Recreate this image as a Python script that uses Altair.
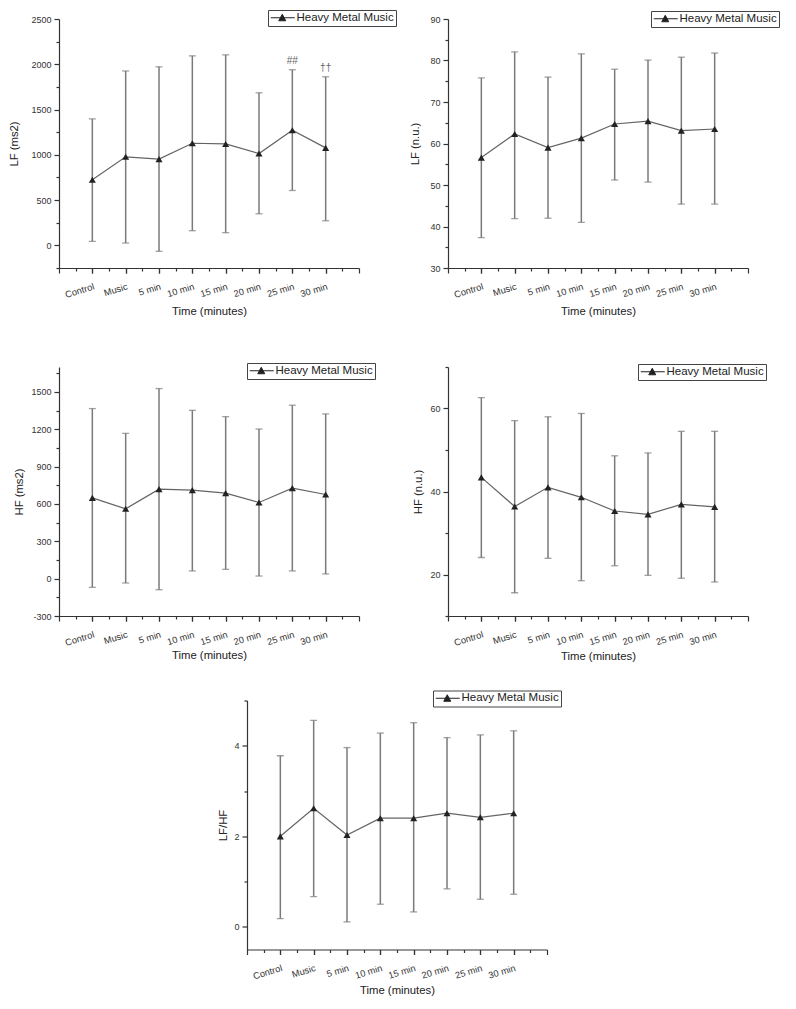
import altair as alt
import pandas as pd

# ---------------- data ----------------
categories = ["Control", "Music", "5 min", "10 min", "15 min", "20 min", "25 min", "30 min"]
series_name = "Heavy Metal Music"

lf_ms2_mean = [725, 978, 952, 1128, 1120, 1014, 1272, 1077]
lf_ms2_hi = [1397, 1926, 1972, 2093, 2104, 1685, 1940, 1862]
lf_ms2_lo = [44, 26, -66, 162, 140, 349, 606, 272]

lf_nu_mean = [56.6, 62.3, 59.0, 61.3, 64.7, 65.4, 63.1, 63.5]
lf_nu_hi = [75.8, 82.1, 76.0, 81.6, 77.9, 80.1, 80.8, 81.8]
lf_nu_lo = [37.3, 41.9, 42.0, 41.0, 51.2, 50.7, 45.4, 45.4]

hf_ms2_mean = [649, 561, 719, 711, 687, 612, 727, 676]
hf_ms2_hi = [1366, 1167, 1527, 1352, 1301, 1202, 1393, 1323]
hf_ms2_lo = [-70, -35, -89, 62, 75, 21, 62, 38]

hf_nu_mean = [43.4, 36.4, 41.0, 38.6, 35.3, 34.5, 36.9, 36.3]
hf_nu_hi = [62.6, 57.1, 58.0, 58.8, 48.6, 49.3, 54.5, 54.5]
hf_nu_lo = [24.1, 15.6, 23.9, 18.5, 22.1, 19.8, 19.1, 18.2]

lfhf_mean = [2.00, 2.62, 2.03, 2.40, 2.40, 2.51, 2.42, 2.51]
lfhf_hi = [3.78, 4.56, 3.96, 4.28, 4.51, 4.18, 4.24, 4.33]
lfhf_lo = [0.18, 0.67, 0.11, 0.50, 0.33, 0.84, 0.61, 0.72]

annot_categories = ["25 min", "30 min"]
annot_text = ["##", "\u2020\u2020"]

# axis tick values (major = labelled, minor = unlabelled)
lf_ms2_major = [0, 500, 1000, 1500, 2000, 2500]
lf_ms2_minor = [-250, 250, 750, 1250, 1750, 2250]
lf_nu_major = [30, 40, 50, 60, 70, 80, 90]
lf_nu_minor = [35, 45, 55, 65, 75, 85]
hf_ms2_major = [-300, 0, 300, 600, 900, 1200, 1500]
hf_ms2_minor = [-150, 150, 450, 750, 1050, 1350, 1650]
hf_nu_major = [20, 40, 60]
hf_nu_minor = [10, 30, 50, 70]
lfhf_major = [0, 2, 4]
lfhf_minor = [1, 3, 5]

# ---------------- styling ----------------
FONT = "Liberation Sans"
INK = "#222222"
BAR = "#7a7a7a"
SYM = "M-1,0L3.8,0M0.6,0.6L1.3,-0.7L2,0.6Z"

n_cat = len(categories)
positions = list(range(1, n_cat + 1))
x_minor_ticks = [i / 2 for i in range(0, 2 * (n_cat + 1) + 1)]


def make_panel(mean, lo, hi, ytitle, ydomain, ymajor, yminor, ytitle_pad,
               xtitle_pad, legend_xy, height, annots=None):
    df = pd.DataFrame({
        "pos": positions, "cat": categories, "mean": mean, "lo": lo, "hi": hi,
        "series": [series_name] * n_cat,
    })

    def xs():
        return alt.Scale(type="point", domain=categories, padding=1)

    def ys():
        return alt.Scale(domain=ydomain, nice=False, zero=False)

    x_main = alt.X(
        "cat:N", scale=xs(), title="Time (minutes)",
        axis=alt.Axis(labelAngle=343, labelAlign="right", labelBaseline="top",
                      labelPadding=9, labelOverlap=False, tickSize=5, labelFontSize=9.3,
                      titlePadding=xtitle_pad, minExtent=31, maxExtent=31),
    )
    y_main = alt.Y(
        "lo:Q", scale=ys(), title=ytitle,
        axis=alt.Axis(values=ymajor, labelExpr="datum.value + ''", labelOverlap=False,
                      labelPadding=3, tickSize=5, titlePadding=ytitle_pad),
    )
    color = alt.Color(
        "series:N",
        scale=alt.Scale(domain=[series_name], range=[INK]),
        legend=alt.Legend(
            title=None, orient="none", legendX=legend_xy[0], legendY=legend_xy[1],
            symbolType=SYM, symbolSize=100, symbolStrokeWidth=1,
            symbolStrokeColor="#555555", symbolFillColor=INK,
            labelFont=FONT, labelFontSize=11.5, labelColor=INK, labelOffset=15,
            padding=2, strokeColor="#444444", fillColor="white",
        ),
    )
    base = alt.Chart(df)
    rule = base.mark_rule(color=BAR, strokeWidth=1.5).encode(x=x_main, y=y_main, y2="hi:Q")
    cap_lo = base.mark_tick(orient="horizontal", size=7, thickness=1.3, color=BAR).encode(
        x=alt.X("cat:N", scale=xs(), axis=None), y=alt.Y("lo:Q", scale=ys(), axis=None))
    cap_hi = base.mark_tick(orient="horizontal", size=7, thickness=1.3, color=BAR).encode(
        x=alt.X("cat:N", scale=xs(), axis=None), y=alt.Y("hi:Q", scale=ys(), axis=None))
    line = base.mark_line(strokeWidth=1.2, strokeOpacity=0.7).encode(
        x=alt.X("cat:N", scale=xs(), axis=None), y=alt.Y("mean:Q", scale=ys(), axis=None),
        color=color)
    pts = base.mark_point(shape="triangle-up", filled=True, size=50, opacity=1).encode(
        x=alt.X("cat:N", scale=xs(), axis=None), y=alt.Y("mean:Q", scale=ys(), axis=None),
        color=color)
    minor = base.mark_point(opacity=0).encode(
        x=alt.X("pos:Q", scale=alt.Scale(domain=[0, n_cat + 1], nice=False, zero=False),
                title=None,
                axis=alt.Axis(values=x_minor_ticks, labels=False, domain=False, orient="bottom",
                              tickSize={"condition": {"test": "datum.value % 1 === 0", "value": 5},
                                        "value": 3})),
        y=alt.Y("mean:Q", scale=ys(), title=None,
                axis=alt.Axis(values=yminor, labels=False, domain=False, orient="left",
                              tickSize=3)),
    )
    layers = [rule, cap_lo, cap_hi, line, pts, minor]
    if annots:
        cats_a, texts_a = annots
        adf = pd.DataFrame({
            "cat": cats_a,
            "hi": [hi[categories.index(c)] for c in cats_a],
            "txt": texts_a,
        })
        layers.append(
            alt.Chart(adf).mark_text(dy=-9, fontSize=10, color="#666666", font=FONT).encode(
                x=alt.X("cat:N", scale=xs(), axis=None),
                y=alt.Y("hi:Q", scale=ys(), axis=None), text="txt:N"))
    return alt.layer(*layers).resolve_scale(x="independent", y="independent").properties(
        width=300, height=height)


p1 = make_panel(lf_ms2_mean, lf_ms2_lo, lf_ms2_hi, "LF (ms2)", [-250, 2500], lf_ms2_major,
                lf_ms2_minor, 11, 6.5, (209, -9), 249, (annot_categories, annot_text))
p2 = make_panel(lf_nu_mean, lf_nu_lo, lf_nu_hi, "LF (n.u.)", [30, 90], lf_nu_major,
                lf_nu_minor, 9.5, 6.5, (203, -8), 249)
p3 = make_panel(hf_ms2_mean, hf_ms2_lo, hf_ms2_hi, "HF (ms2)", [-300, 1700], hf_ms2_major,
                hf_ms2_minor, 6, 2, (188, -4), 249)
p4 = make_panel(hf_nu_mean, hf_nu_lo, hf_nu_hi, "HF (n.u.)", [10, 70], hf_nu_major,
                hf_nu_minor, 6, 3, (190, -3), 249)
p5 = make_panel(lfhf_mean, lfhf_lo, lfhf_hi, "LF/HF", [-0.5, 5], lfhf_major,
                lfhf_minor, 5, 4, (186, -10), 249)

spacer_df = pd.DataFrame({"a": [0], "b": [1]})
spacer = alt.Chart(spacer_df).mark_rect(opacity=0).encode(
    x=alt.X("a:Q", axis=None, scale=alt.Scale(domain=[0, 1])), x2="b:Q",
    y=alt.Y("a:Q", axis=None, scale=alt.Scale(domain=[0, 1])), y2="b:Q",
).properties(width=99, height=249)

top = alt.concat(p1, p2, p3, p4, columns=2, bounds="flush",
                 spacing={"row": 99, "column": 89})
top = top.resolve_scale(color="independent").resolve_legend(color="independent")
bottom = alt.hconcat(spacer, p5, bounds="flush", spacing=89)
bottom = bottom.resolve_scale(color="independent").resolve_legend(color="independent")

chart = alt.vconcat(top, bottom, spacing=27.5)
chart = chart.resolve_scale(color="independent").resolve_legend(color="independent")
chart = chart.properties(padding={"left": 0, "top": 1, "right": 0, "bottom": 0})
chart = chart.configure_view(strokeWidth=0).configure_axis(
    grid=False, domainColor="#333333", tickColor="#333333", domainWidth=1.2, tickWidth=1.2,
    labelColor="#333333", titleColor=INK, labelFont=FONT, titleFont=FONT,
    labelFontSize=9, titleFontSize=11.3, titleFontWeight="normal", labelOverlap=False,
).configure_legend(strokeWidth=1)

chart.save("out.html", embed_options={"renderer": "svg", "actions": False})
